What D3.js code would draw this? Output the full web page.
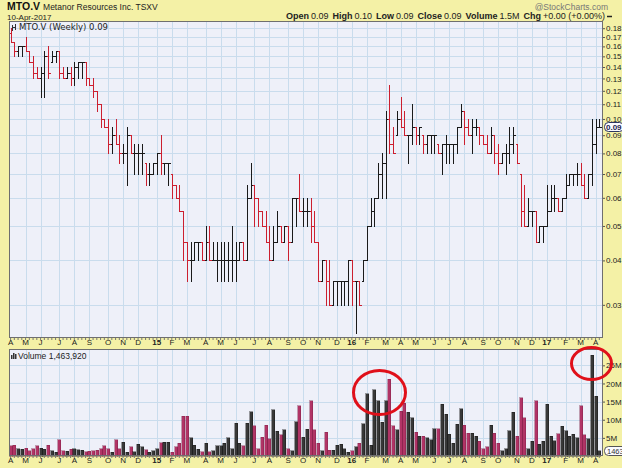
<!DOCTYPE html>
<html><head><meta charset="utf-8">
<script src="https://cdn.jsdelivr.net/npm/d3@7"></script>
<style>
body{margin:0;background:#f4f1a6;}
svg{display:block;font-family:"Liberation Sans",Arial,sans-serif;}
</style></head><body>
<svg id="c" width="622" height="468"></svg>
<script>
// ---------- data ----------
const firstWeek = "2014-04-07";
const open = [.175,.165,.155,.16,.16,.155,.145,.135,.13,.135,
.15,.145,.15,.155,.135,.13,.135,.13,.14,.145,
.145,.13,.125,.12,.11,.10,.095,.085,.09,.085,
.08,.08,.09,.08,.08,.08,.075,.07,.07,.075,
.08,.075,.075,.07,.065,.06,.055,.045,.04,.04,
.045,.045,.04,.045,.04,.04,.04,.04,.04,.04,
.04,.04,.045,.04,.06,.065,.06,.055,.05,.045,
.04,.045,.05,.045,.05,.045,.06,.06,.055,.055,
.055,.05,.045,.035,.04,.035,.03,.035,.035,.035,
.035,.04,.035,.035,.035,.04,.05,.055,.06,.07,
.075,.10,.085,.09,.10,.095,.09,.09,.095,.09,
.09,.085,.09,.09,.085,.08,.085,.085,.085,.085,
.095,.105,.095,.09,.095,.095,.09,.085,.08,.09,
.08,.075,.08,.08,.085,.085,.07,.055,.05,.055,
.055,.045,.05,.05,.055,.06,.06,.055,.06,.065,
.07,.07,.07,.065,.06,.07,.085,.095];
const high = [.18,.165,.16,.16,.17,.155,.15,.14,.14,.155,
.16,.155,.155,.155,.14,.14,.14,.145,.145,.145,
.145,.13,.13,.12,.11,.10,.10,.095,.10,.09,
.085,.095,.09,.085,.085,.085,.075,.075,.075,.08,
.09,.075,.075,.07,.065,.065,.055,.045,.045,.045,
.045,.045,.05,.05,.045,.045,.045,.045,.045,.05,
.045,.045,.045,.065,.075,.065,.06,.055,.055,.05,
.05,.055,.05,.05,.05,.06,.06,.07,.06,.06,
.06,.055,.045,.04,.04,.04,.035,.035,.035,.035,
.04,.04,.035,.035,.04,.05,.06,.06,.075,.08,
.105,.125,.095,.105,.115,.105,.09,.11,.095,.095,
.09,.09,.09,.09,.085,.085,.09,.085,.085,.095,
.11,.105,.10,.10,.10,.095,.09,.09,.095,.09,
.085,.08,.085,.095,.095,.085,.07,.065,.06,.055,
.055,.05,.05,.065,.065,.065,.06,.06,.07,.07,
.07,.075,.075,.07,.07,.10,.10,.10];
const low = [.165,.15,.15,.15,.155,.145,.13,.13,.115,.115,
.13,.145,.145,.13,.13,.13,.125,.125,.13,.13,
.125,.125,.115,.105,.095,.095,.08,.08,.085,.075,
.075,.065,.08,.07,.07,.07,.065,.065,.07,.07,
.07,.07,.065,.06,.06,.055,.04,.035,.035,.04,
.04,.04,.04,.04,.04,.035,.035,.035,.035,.035,
.035,.04,.04,.04,.06,.05,.05,.05,.045,.04,
.04,.045,.045,.045,.04,.045,.05,.055,.05,.05,
.045,.045,.035,.035,.03,.03,.03,.03,.03,.03,
.03,.03,.025,.03,.035,.04,.05,.05,.06,.06,
.06,.08,.08,.09,.095,.09,.075,.085,.085,.085,
.08,.08,.08,.08,.08,.07,.075,.075,.075,.08,
.095,.085,.09,.08,.09,.085,.085,.08,.08,.075,
.07,.075,.07,.075,.08,.075,.05,.05,.05,.05,
.045,.045,.045,.05,.055,.055,.055,.055,.06,.065,
.065,.065,.065,.06,.06,.065,.08,.095];
const close = [.165,.155,.16,.16,.155,.145,.135,.13,.135,.15,
.135,.15,.155,.135,.13,.135,.13,.14,.145,.145,
.13,.125,.12,.11,.10,.095,.085,.09,.085,.08,
.08,.09,.08,.08,.08,.08,.07,.07,.075,.08,
.075,.075,.075,.065,.06,.055,.045,.04,.04,.045,
.045,.04,.045,.04,.04,.04,.04,.04,.04,.04,
.04,.045,.04,.06,.065,.06,.055,.05,.045,.04,
.045,.05,.045,.05,.045,.06,.06,.055,.055,.055,
.05,.045,.035,.04,.035,.03,.035,.035,.035,.035,
.04,.035,.035,.03,.04,.05,.055,.06,.07,.075,
.10,.085,.08,.10,.095,.09,.09,.095,.09,.095,
.085,.09,.09,.09,.08,.085,.085,.085,.085,.095,
.105,.095,.09,.095,.095,.09,.085,.08,.09,.08,
.075,.08,.08,.085,.09,.075,.055,.05,.055,.055,
.045,.05,.05,.055,.06,.06,.055,.06,.065,.07,
.07,.07,.065,.06,.07,.085,.095,.095];
const volumeM = [2.8,3.0,2.0,1.8,2.2,1.5,2.0,2.8,2.2,1.8,
3.0,1.5,1.0,4.5,1.5,1.3,1.8,2.0,1.7,1.6,
1.2,1.3,1.5,1.6,2.0,2.8,2.0,1.0,4.5,2.0,
3.8,1.0,2.5,1.2,3.2,2.5,1.7,1.0,1.5,2.0,
3.7,3.8,3.8,1.0,2.5,3.5,11,11,5,3,
1.8,1.2,3.5,1.2,1.5,2.8,2.8,3.5,5,2.0,
9,3.5,2.8,9,12.2,8.3,2.0,5.2,8.5,4.8,
12.8,6.8,5.8,7.3,2.0,1.5,9.4,13.8,5.2,7.4,
15.2,7.2,3.5,1.5,6.5,1.6,1.6,3.0,3.2,2.0,
1.0,1.4,2.5,3.5,8.9,17.2,3.0,18.3,15.2,9.3,
15.3,21.2,8.3,7.3,12.4,14.5,12.0,10.5,6.5,5.5,
5.5,5.0,4.5,7.5,7.5,14.3,11.5,6.0,3.5,8.8,
13.0,8.5,6.3,6.3,5.5,4.0,2.0,2.5,8.5,6.3,
3.5,1.5,2.0,7.0,12.0,5.5,16.0,10.5,2.0,4.0,
15.3,3.3,4.0,14.2,5.5,4.2,6.2,8.2,7.0,5.5,
6.0,5.0,13.8,5.8,4.8,27.8,16.5,1.46392];
const priceTicks = [0.03,0.04,0.05,0.06,0.07,0.08,0.09,0.10,0.11,0.12,0.13,0.14,0.15,0.16,0.17,0.18];
const volumeTicks = [5,10,15,20,25];
const monthLetters = ["J","F","M","A","M","J","J","A","S","O","N","D"];
const headerStats = [["Open","0.09"],["High","0.10"],["Low","0.09"],["Close","0.09"],["Volume","1.5M"],["Chg","+0.00 (+0.00%)"]];

// ---------- layout ----------
const n = close.length;
const L = 9, R = 603, PT = 21, PB = 338, VT = 349, VB = 456;
const svg = d3.select("#c");
const bg = "#f4f1a6", panel = "#eef0f9", grid = "#c9dced";
const upC = "#1a1a1a", dnC = "#cc1f2f", vUp = "#383838", vDn = "#b13466";

const start = d3.timeParse("%Y-%m-%d")(firstWeek);
const dates = d3.range(n).map(i => d3.timeMonday.offset(start, i));
const x = d3.scaleBand().domain(d3.range(n)).range([8.7, 8.7 + 3.75 * n]);
const cx = i => Math.round(x(i) + x.bandwidth() / 2) + 0.5;
const y = d3.scaleLog().domain([0.0242, 0.1886]).range([PB, PT]);
const yv = d3.scaleLinear().domain([0, 29.5]).range([VB, VT]);
const isDown = i => i === 0 ? close[0] < open[0] : close[i] < close[i - 1];

const monthIdx = d3.range(n).filter(i => i === 0 || dates[i].getMonth() !== dates[i - 1].getMonth());
const monthLabel = i => dates[i].getMonth() === 0 ? d3.timeFormat("%y")(dates[i]) : monthLetters[dates[i].getMonth()];

svg.append("rect").attr("width", 622).attr("height", 468).attr("fill", bg);

function panelBox(top, bottom) {
  svg.append("rect").attr("x", L).attr("y", top).attr("width", R - L).attr("height", bottom - top).attr("fill", panel);
}
panelBox(PT, PB); panelBox(VT, VB);

// grids
svg.append("g").selectAll("line").data(priceTicks).join("line")
  .attr("x1", L).attr("x2", R).attr("y1", d => Math.round(y(d)) + 0.5).attr("y2", d => Math.round(y(d)) + 0.5)
  .attr("stroke", grid).attr("stroke-width", 1);
[[PT, PB], [VT, VB]].forEach(([t, b]) => {
  svg.append("g").selectAll("line").data(monthIdx.filter(i => i > 0)).join("line")
    .attr("x1", cx).attr("x2", cx).attr("y1", t).attr("y2", b)
    .attr("stroke", grid).attr("stroke-width", 1);
});
svg.append("g").selectAll("line").data(volumeTicks).join("line")
  .attr("x1", L).attr("x2", R).attr("y1", d => Math.round(yv(d)) + 0.5).attr("y2", d => Math.round(yv(d)) + 0.5)
  .attr("stroke", grid);

// price bars
const bars = svg.append("g").attr("shape-rendering", "crispEdges");
d3.range(n).forEach(i => {
  const c = isDown(i) ? dnC : upC;
  const g = bars.append("g").attr("stroke", c).attr("stroke-width", 1);
  g.append("line").attr("x1", cx(i)).attr("x2", cx(i)).attr("y1", y(high[i])).attr("y2", y(low[i]) + 1);
  g.append("line").attr("x1", cx(i) - 2).attr("x2", cx(i)).attr("y1", Math.round(y(open[i])) + 0.5).attr("y2", Math.round(y(open[i])) + 0.5);
  g.append("line").attr("x1", cx(i)).attr("x2", cx(i) + 2).attr("y1", Math.round(y(close[i])) + 0.5).attr("y2", Math.round(y(close[i])) + 0.5);
});

// volume bars
svg.append("g").attr("shape-rendering", "crispEdges").selectAll("rect").data(d3.range(n)).join("rect")
  .attr("x", i => Math.round(x(i)) + 0.5).attr("width", 3)
  .attr("y", i => yv(volumeM[i])).attr("height", i => VB - yv(volumeM[i]))
  .attr("fill", i => isDown(i) ? vDn : vUp)
  .attr("stroke", i => isDown(i) ? "#7a1e44" : "#111").attr("stroke-width", 0.4);

// panel borders
[[PT, PB], [VT, VB]].forEach(([t, b]) => {
  svg.append("rect").attr("x", L + 0.5).attr("y", t + 0.5).attr("width", R - L - 1).attr("height", b - t - 1)
    .attr("fill", "none").attr("stroke", "#6f6f6f");
});

// axes
const axP = svg.append("g").attr("transform", `translate(${R},0)`)
  .call(d3.axisRight(y).tickValues(priceTicks).tickFormat(d3.format(".2f")).tickSize(2).tickPadding(1));
const axV = svg.append("g").attr("transform", `translate(${R},0)`)
  .call(d3.axisRight(yv).tickValues(volumeTicks).tickFormat(d => d + "M").tickSize(2).tickPadding(1));
[axP, axV].forEach(a => {
  a.select(".domain").remove();
  a.selectAll("line").attr("stroke", "#555");
  a.selectAll("text").attr("font-size", 8).attr("fill", "#222").attr("font-family", "Liberation Sans, Arial, sans-serif");
});

function monthAxis(yPos) {
  const a = svg.append("g").attr("transform", `translate(0,${yPos})`)
    .call(d3.axisBottom(x).tickValues(monthIdx).tickFormat(monthLabel).tickSize(0).tickPadding(1));
  a.select(".domain").remove();
  a.selectAll("text").attr("font-size", 8).attr("fill", "#222").attr("font-family", "Liberation Sans, Arial, sans-serif")
    .attr("font-weight", i => dates[i].getMonth() === 0 ? "bold" : "normal");
  const t = svg.append("g").attr("transform", `translate(0,${yPos})`)
    .call(d3.axisBottom(x).tickValues(d3.range(n)).tickFormat("").tickSize(2));
  t.select(".domain").remove();
  t.selectAll("line").attr("stroke", "#777");
}
monthAxis(PB);
monthAxis(VB);

// last price marker
const lastY = Math.round(y(close[n - 1]));
svg.append("rect").attr("x", 604.5).attr("y", lastY - 4.5).attr("width", 19).attr("height", 9).attr("rx", 4)
  .attr("fill", "#fbfbff").attr("stroke", "#2b3560");
svg.append("text").attr("x", 606).attr("y", lastY + 3).attr("font-size", 8).attr("font-weight", "bold")
  .attr("fill", "#1b2350").text(d3.format(".2f")(close[n - 1] - 0.005));
const lastV = Math.round(yv(volumeM[n - 1]));
svg.append("rect").attr("x", 604.5).attr("y", lastV - 4.5).attr("width", 26).attr("height", 9).attr("rx", 4)
  .attr("fill", "#fbfbff").attr("stroke", "#555");
svg.append("text").attr("x", 607).attr("y", lastV + 3).attr("font-size", 7.5).attr("fill", "#333")
  .text(d3.format(",")(Math.round(volumeM[n - 1] * 1e6)).replace(/,/g, ""));

// panel labels
const pl = svg.append("g");
pl.append("path").attr("d", "M12.5,25 v6 M15.5,24 v6 M12.5,27.5 h3").attr("stroke", "#333").attr("fill", "none");
pl.append("text").attr("x", 19).attr("y", 30).attr("font-size", 8.5).attr("font-family", "DejaVu Sans, sans-serif")
  .attr("fill", "#222").text("MTO.V (Weekly) 0.09");
const vl = svg.append("g");
[[11, 355, 4], [13, 353, 6], [15, 354, 5]].forEach(([xx, yy, h]) => vl.append("rect").attr("x", xx).attr("y", yy).attr("width", 1.5).attr("height", h).attr("fill", "#333"));
vl.append("text").attr("x", 18).attr("y", 359).attr("font-size", 8.5).attr("fill", "#222").text("Volume 1,463,920");

// header
const title = svg.append("text").attr("x", 7).attr("y", 10).attr("font-size", 10.5).attr("font-weight", "bold").attr("fill", "#111").text("MTO.V");
const tw = title.node().getComputedTextLength();
svg.append("text").attr("x", 7 + tw + 3).attr("y", 10).attr("font-size", 8.5).attr("fill", "#222").text("Metanor Resources Inc.  TSXV");
svg.append("text").attr("x", 7).attr("y", 20).attr("font-size", 8).attr("fill", "#222").text("10-Apr-2017");
svg.append("text").attr("x", 608).attr("y", 9.5).attr("text-anchor", "end").attr("font-size", 8.5).attr("fill", "#777").text("@StockCharts.com");
const hs = svg.append("text").attr("x", 605).attr("y", 19).attr("text-anchor", "end").attr("font-size", 9).attr("fill", "#222");
headerStats.forEach(([k, v], j) => {
  hs.append("tspan").attr("font-weight", "bold").attr("dx", j ? 4 : 0).text(k);
  hs.append("tspan").attr("dx", 2).text(v);
});
svg.append("line").attr("x1", 607).attr("x2", 612).attr("y1", 16.5).attr("y2", 16.5).attr("stroke", "#222").attr("stroke-width", 1.5);

// annotations (red circles)
svg.append("ellipse").attr("cx", (cx(95) + cx(101)) / 2 + 1).attr("cy", yv(17.5)).attr("rx", 26).attr("ry", 22)
  .attr("fill", "none").attr("stroke", "#e0101a").attr("stroke-width", 3);
svg.append("ellipse").attr("cx", cx(155) - 1).attr("cy", yv(25.5)).attr("rx", 20).attr("ry", 16)
  .attr("fill", "none").attr("stroke", "#e0101a").attr("stroke-width", 3);
</script>
</body></html>
